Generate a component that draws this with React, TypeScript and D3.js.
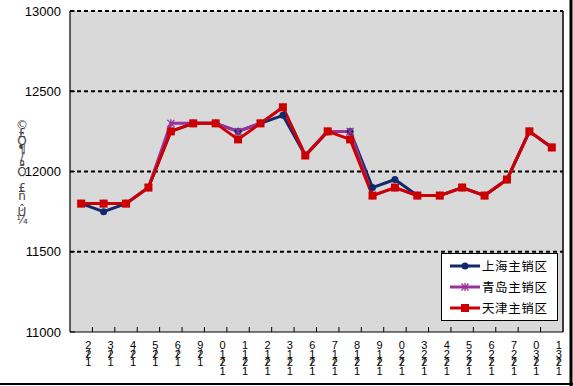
import React from "react";
import * as d3 from "d3";

const categories = ["12/2","12/3","12/4","12/5","12/6","12/9","12/10","12/11","12/12","12/13","12/16","12/17","12/18","12/19","12/20","12/23","12/24","12/25","12/26","12/27","12/30","12/31"];
const shanghai = [11800,11750,11800,11900,12250,12300,12300,12250,12300,12350,12100,12250,12250,11900,11950,11850,11850,11900,11850,11950,12250,12150];
const qingdao = [11800,11800,11800,11900,12300,12300,12300,12250,12300,12400,12100,12250,12250,11850,11900,11850,11850,11900,11850,11950,12250,12150];
const tianjin = [11800,11800,11800,11900,12250,12300,12300,12200,12300,12400,12100,12250,12200,11850,11900,11850,11850,11900,11850,11950,12250,12150];
const seriesNames = ["上海主销区","青岛主销区","天津主销区"];
const yTicks = [11000,11500,12000,12500,13000];
const yTitle = "©£Ö¶/ªÔ¨£ñ¸Û¼";

const W = 573, H = 386;
const L = 70, R = 563, T = 11, B = 332;

export default function App() {
  const x = d3.scaleBand<number>().domain(categories.map((_, i) => i)).range([L, R]);
  const y = d3.scaleLinear().domain([11000, 13000]).range([B, T]);
  const cx = (i: number) => (x(i) as number) + x.bandwidth() / 2;
  const line = d3.line<number>().x((_, i) => cx(i)).y((v) => y(v));
  const colors = ["#12296b", "#993399", "#cc0000"];
  const data = [shanghai, qingdao, tianjin];

  const marker = (s: number, px: number, py: number, key: string) => {
    if (s === 0) return <circle key={key} cx={px} cy={py} r={3.5} fill={colors[0]} />;
    if (s === 1)
      return (
        <g key={key} stroke={colors[1]} strokeWidth={1.3}>
          <line x1={px - 3.5} y1={py - 3.5} x2={px + 3.5} y2={py + 3.5} />
          <line x1={px - 3.5} y1={py + 3.5} x2={px + 3.5} y2={py - 3.5} />
          <line x1={px} y1={py - 4} x2={px} y2={py + 4} />
        </g>
      );
    return <rect key={key} x={px - 4} y={py - 4} width={8} height={8} fill={colors[2]} />;
  };

  const stackLabel = (txt: string, px: number, key: string) => {
    const chars = txt.split("").reverse();
    const base = 349, step = 8.67;
    let row = 0;
    const spans = chars.map((c, j) => {
      let yy: number;
      if (c === "/") {
        yy = base + row * step - 1;
      } else {
        yy = base + row * step;
        row++;
      }
      return <tspan key={j} x={px} y={yy}>{c}</tspan>;
    });
    return <text key={key} textAnchor="middle">{spans}</text>;
  };

  return (
    <div style={{ position: "fixed", left: 0, top: 0 }}>
      <svg width={W} height={H} style={{ display: "block", background: "#fff" }} fontFamily="'Liberation Sans', Arial, sans-serif">
        <rect x={L} y={T} width={R - L} height={B - T} fill="#d9d9d9" />
        {yTicks.filter((t) => t !== 11000).map((t) => (
          <line key={t} x1={L} x2={R} y1={y(t)} y2={y(t)} stroke="#000" strokeWidth={2} strokeDasharray="4,3" />
        ))}
        <line x1={L} x2={L} y1={T} y2={B} stroke="#000" strokeWidth={1.2} />
        <line x1={R} x2={R} y1={T} y2={B} stroke="#000" strokeWidth={1.5} />
        <line x1={L} x2={R} y1={B} y2={B} stroke="#000" strokeWidth={1.2} />
        {categories.map((_, i) => i > 0 ? (
          <line key={"t" + i} x1={x(i) as number} x2={x(i) as number} y1={B} y2={B - 5} stroke="#000" strokeWidth={1} />
        ) : null)}
        {yTicks.map((t) => (
          <line key={"yt" + t} x1={L} x2={L + 5} y1={y(t)} y2={y(t)} stroke="#000" strokeWidth={1} />
        ))}
        {yTicks.map((t) => (
          <text key={"yl" + t} x={61} y={y(t) + 4.5} textAnchor="end" fontSize={13} fill="#000">{t}</text>
        ))}
        <g fontSize={11} fill="#000">
          {categories.map((c, i) => stackLabel(c, cx(i) + 7, "c" + i))}
        </g>
        <text fontSize={12} fill="#444" fontFamily="'DejaVu Sans', sans-serif" textAnchor="middle">
          {yTitle.split("").map((c, j) => (
            <tspan key={j} x={22} y={129 + j * 7.9}>{c}</tspan>
          ))}
        </text>
        {data.map((d, s) => (
          <path key={"p" + s} d={line(d) as string} fill="none" stroke={colors[s]} strokeWidth={3} strokeLinejoin="round" />
        ))}
        {data.map((d, s) => d.map((v, i) => marker(s, cx(i), y(v), "m" + s + "_" + i)))}
        <rect x={441.5} y={253.5} width={116} height={67} fill="#fff" stroke="#000" strokeWidth={1} />
        {seriesNames.map((n, s) => {
          const ly = 266 + s * 21;
          return (
            <g key={"lg" + s}>
              <line x1={450} x2={480} y1={ly} y2={ly} stroke={colors[s]} strokeWidth={3} />
              {marker(s, 465, ly, "lm" + s)}
              <text x={482} y={ly + 4.5} fontSize={12.5} letterSpacing={0.6} fill="#000" fontFamily="'Noto Sans CJK SC', sans-serif">{n}</text>
            </g>
          );
        })}
        <line x1={571} x2={571} y1={0} y2={386} stroke="#000" strokeWidth={3} />
        <line x1={0} x2={573} y1={384} y2={384} stroke="#000" strokeWidth={2} />
      </svg>
    </div>
  );
}
